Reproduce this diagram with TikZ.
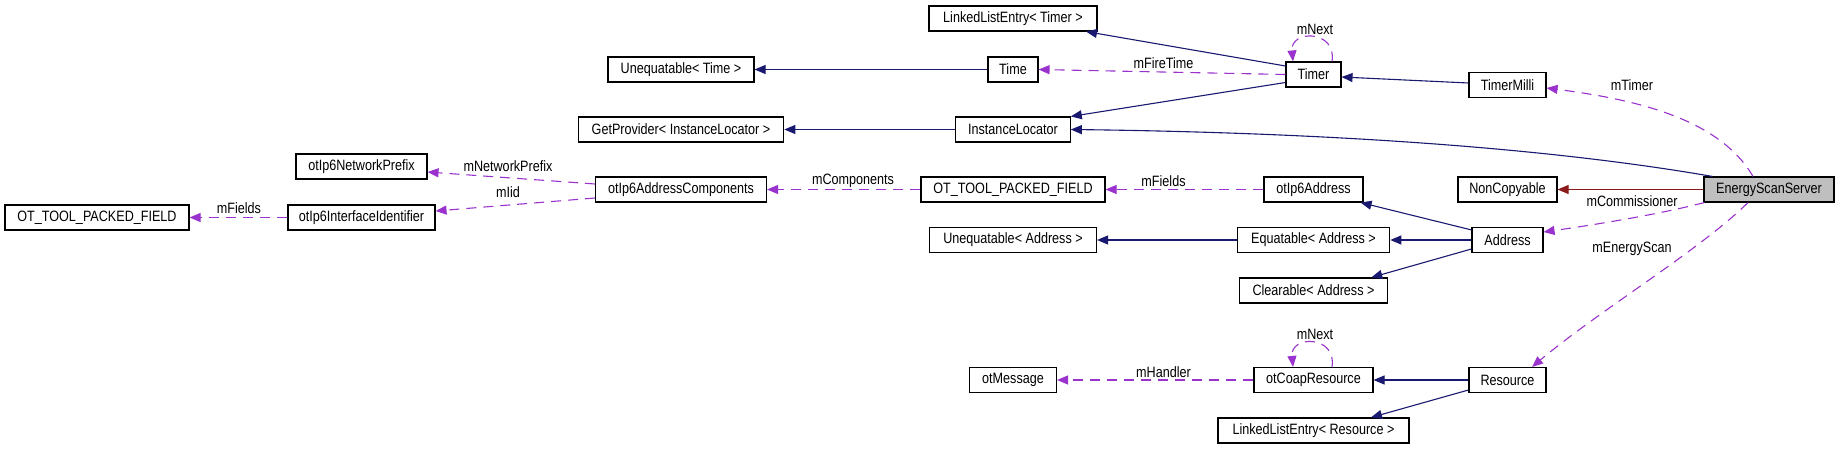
\documentclass[tikz,border=0pt]{standalone}
\usepackage{fontspec}
\setmainfont{Liberation Sans}[FakeStretch=0.84]
\usetikzlibrary{arrows.meta,calc}
\definecolor{inhcol}{HTML}{191970}
\definecolor{usecol}{HTML}{9A32CD}
\definecolor{privcol}{HTML}{8B1A1A}
\definecolor{essfill}{HTML}{BFBFBF}
\begin{document}
\begin{tikzpicture}[x=1pt,y=-1pt,
  cls/.style={draw=black, line width=1.1pt, fill=white, inner sep=0pt,
    minimum height=25pt, font=\fontsize{15}{17}\selectfont},
  lbl/.style={inner sep=0pt, font=\fontsize{15}{17}\selectfont},
  inh/.style={draw=inhcol, line width=1.1pt, -{Triangle[length=11pt,width=9pt]}},
  use/.style={draw=usecol, line width=1.1pt, dash pattern=on 10pt off 7pt,
    -{Triangle[length=11pt,width=9pt]}},
  priv/.style={draw=privcol, line width=1.1pt, -{Triangle[length=11pt,width=9pt]}}
]
\useasboundingbox (0,0) rectangle (1839,449);

% classes
\node[cls, minimum width=168pt] (llt) at (1013,18.5) {LinkedListEntry< Timer >};
\node[cls, minimum width=146pt] (uneqt) at (681,69.5) {Unequatable< Time >};
\node[cls, minimum width=50pt] (time) at (1013,69.5) {Time};
\node[cls, minimum width=55pt] (timer) at (1313.5,74.5) {Timer};
\node[cls, minimum width=77pt] (tmilli) at (1507.5,85) {TimerMilli};
\node[cls, minimum width=205.5pt] (getp) at (681,129.5) {GetProvider< InstanceLocator >};
\node[cls, minimum width=114.5pt] (instl) at (1013,129.5) {InstanceLocator};
\node[cls, minimum width=131pt] (netpfx) at (361.5,166.5) {otIp6NetworkPrefix};
\node[cls, minimum width=171pt] (addrcomp) at (681,189.5) {otIp6AddressComponents};
\node[cls, minimum width=184pt] (otpf2) at (1013,189.5) {OT\_TOOL\_PACKED\_FIELD};
\node[cls, minimum width=99pt] (ip6addr) at (1313.5,189.5) {otIp6Address};
\node[cls, minimum width=99pt] (noncopy) at (1507.5,189.5) {NonCopyable};
\node[cls, minimum width=130pt, fill=essfill] (ess) at (1769,189.5) {EnergyScanServer};
\node[cls, minimum width=184pt] (otpf1) at (97,217.5) {OT\_TOOL\_PACKED\_FIELD};
\node[cls, minimum width=147pt] (iid) at (361.5,217.5) {otIp6InterfaceIdentifier};
\node[cls, minimum width=167pt] (uneqa) at (1013,240) {Unequatable< Address >};
\node[cls, minimum width=152.5pt] (eqa) at (1313.5,240) {Equatable< Address >};
\node[cls, minimum width=71pt] (addr) at (1507.5,240) {Address};
\node[cls, minimum width=148.5pt] (cleara) at (1313.5,290.5) {Clearable< Address >};
\node[cls, minimum width=87pt] (otmsg) at (1013,380) {otMessage};
\node[cls, minimum width=119pt] (coap) at (1313.5,380) {otCoapResource};
\node[cls, minimum width=77pt] (res) at (1507.5,380) {Resource};
\node[cls, minimum width=191pt] (llr) at (1313.5,430.5) {LinkedListEntry< Resource >};

% inheritance
\draw[inh] ($(timer.west)+(0,-8.5)$) -- ($(llt.south)+(73,0)$);
\draw[inh] ($(timer.west)+(0,8)$) -- (instl.north east);
\draw[inh] (time.west) -- (uneqt.east);
\draw[inh] (instl.west) -- (getp.east);
\draw[inh] ($(ess.north west)+(9,0)$) .. controls (1560,150) and (1350,133) .. (instl.east);
\draw[inh] ($(tmilli.west)+(0,-2)$) -- ($(timer.east)+(0,2.5)$);
\draw[priv] (ess.west) -- (noncopy.east);
\draw[inh] ($(addr.north west)+(0,3)$) -- ($(ip6addr.south east)+(-3,0)$);
\draw[inh] (addr.west) -- (eqa.east);
\draw[inh] ($(addr.west)+(0,9)$) -- ($(cleara.north east)+(-17,0)$);
\draw[inh] (eqa.west) -- (uneqa.east);
\draw[inh] (res.west) -- (coap.east);
\draw[inh] ($(res.west)+(0,10)$) -- ($(llr.north)+(57.5,0)$);

% usage
\draw[use] (timer.west) -- (time.east);
\draw[use] ($(timer.north)+(18.5,0)$) .. controls +(5,-32) and +(-3,-32) .. ($(timer.north)+(-20.5,0)$);
\draw[use] ($(ess.north)+(-16,0)$) .. controls (1720,120) and (1640,100) .. ($(tmilli.east)+(0,3)$);
\draw[use] ($(ess.south west)+(1,0)$) .. controls (1660,214) and (1600,224) .. ($(addr.east)+(0,-8)$);
\draw[use] ($(ess.south)+(-21,0)$) .. controls (1700,250) and (1600,310) .. ($(res.north)+(24.5,0)$);
\draw[use] (ip6addr.west) -- (otpf2.east);
\draw[use] (otpf2.west) -- (addrcomp.east);
\draw[use] ($(addrcomp.west)+(0,-5.5)$) -- ($(netpfx.east)+(0,5.5)$);
\draw[use] ($(addrcomp.west)+(0,8.5)$) -- ($(iid.east)+(0,-6.5)$);
\draw[use] (iid.west) -- (otpf1.east);
\draw[use] (coap.west) -- (otmsg.east);
\draw[use] ($(coap.north)+(18.5,0)$) .. controls +(5,-32) and +(-3,-32) .. ($(coap.north)+(-20.5,0)$);

% labels
\node[lbl] (l1) at (1315,29) {mNext};
\node[lbl] (l2) at (1163.5,63) {mFireTime};
\node[lbl] (l3) at (1632,85) {mTimer};
\node[lbl] (l4) at (1632,201) {mCommissioner};
\node[lbl] (l5) at (1632,249) {mEnergyScan};
\node[lbl] (l6) at (1315,334) {mNext};
\node[lbl] (l7) at (1163.5,372) {mHandler};
\node[lbl] (l8) at (853,181) {mComponents};
\node[lbl] (l9) at (1163.5,181) {mFields};
\node[lbl] (l10) at (508,166) {mNetworkPrefix};
\node[lbl] (l11) at (508,192) {mIid};
\node[lbl] (l12) at (239,208) {mFields};
\end{tikzpicture}
\end{document}
